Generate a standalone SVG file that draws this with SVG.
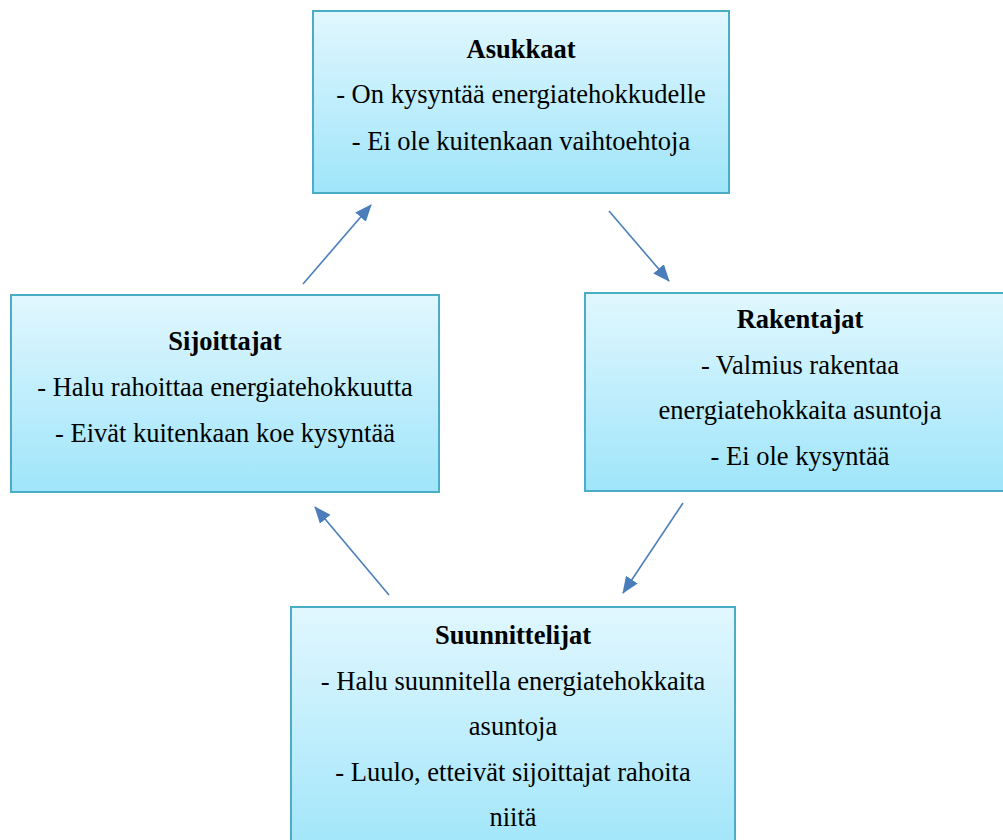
<svg xmlns="http://www.w3.org/2000/svg" width="1003" height="840" viewBox="0 0 1003 840">
<style>
.box{fill:url(#g);stroke:#4bacc6;stroke-width:2}
text{font-family:"Liberation Serif","Times New Roman",serif;font-size:26.5px;fill:#000;text-anchor:middle}
.t{font-weight:bold}
.c{stroke:#4a7ebb;stroke-width:1.6;fill:none;marker-end:url(#a)}
</style>
<defs>
<linearGradient id="g" x1="0" y1="0" x2="0" y2="1">
<stop offset="0" stop-color="#e1f7fe"/>
<stop offset="1" stop-color="#9fe5fa"/>
</linearGradient>
<marker id="a" markerUnits="userSpaceOnUse" markerWidth="18" markerHeight="14" refX="16" refY="7" orient="auto">
<path d="M0,0 L17,7 L0,14 Z" fill="#4a7ebb"/>
</marker>
</defs>
<g id="asukkaat">
<rect class="box" x="313" y="11" width="416" height="182"/>
<text class="t" x="521" y="58">Asukkaat</text>
<text x="521" y="103">- On kysyntää energiatehokkudelle</text>
<text x="521" y="150">- Ei ole kuitenkaan vaihtoehtoja</text>
</g>
<g id="sijoittajat">
<rect class="box" x="11" y="295" width="428" height="197"/>
<text class="t" x="225" y="350">Sijoittajat</text>
<text x="225" y="396">- Halu rahoittaa energiatehokkuutta</text>
<text x="225" y="442">- Eivät kuitenkaan koe kysyntää</text>
</g>
<g id="rakentajat">
<rect class="box" x="585" y="293" width="430" height="198"/>
<text class="t" x="800" y="328">Rakentajat</text>
<text x="800" y="374">- Valmius rakentaa</text>
<text x="800" y="419">energiatehokkaita asuntoja</text>
<text x="800" y="465">- Ei ole kysyntää</text>
</g>
<g id="suunnittelijat">
<rect class="box" x="291" y="607" width="444" height="250"/>
<text class="t" x="513" y="644">Suunnittelijat</text>
<text x="513" y="690">- Halu suunnitella energiatehokkaita</text>
<text x="513" y="735">asuntoja</text>
<text x="513" y="781">- Luulo, etteivät sijoittajat rahoita</text>
<text x="513" y="826">niitä</text>
</g>
<g id="connectors">
<line class="c" x1="303" y1="284" x2="371" y2="205"/>
<line class="c" x1="609" y1="211" x2="669" y2="281"/>
<line class="c" x1="683" y1="503" x2="623" y2="593"/>
<line class="c" x1="389" y1="595" x2="315" y2="507"/>
</g>
</svg>
